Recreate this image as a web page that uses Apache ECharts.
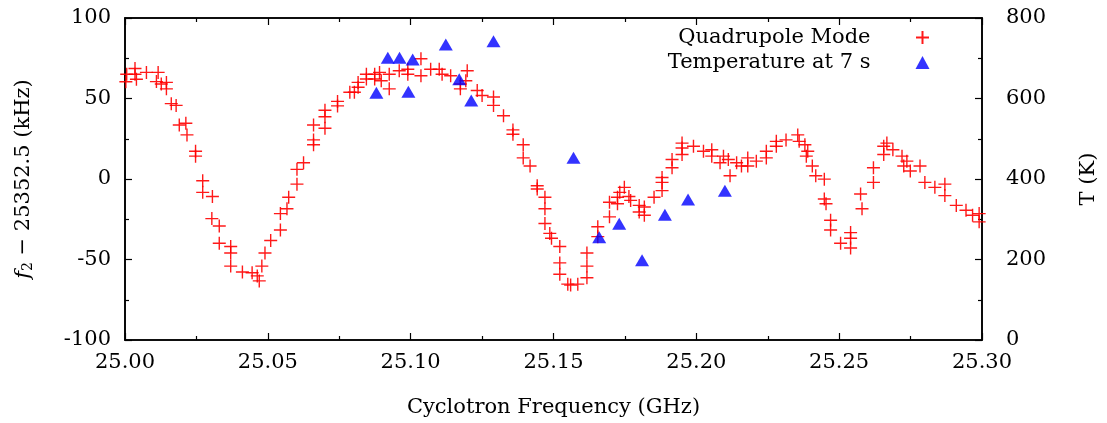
<!DOCTYPE html>
<html>
<head>
<meta charset="utf-8">
<script src="https://cdn.jsdelivr.net/npm/echarts@6/dist/echarts.min.js"></script>
<style>html,body{margin:0;padding:0;background:#fff;overflow:hidden}#c{width:1107px;height:423px}</style>
</head>
<body>
<div id="c"></div>
<script>
// Quadrupole mode: cyclotron frequency (GHz) and f2 - 25352.5 (kHz)
const quadFreq = [
25.0006,25.0003,25.0035,25.0035,25.0040,25.0075,25.0110,25.0116,25.0127,25.0145,25.0145,25.0162,25.0179,25.0190,25.0213,25.0217,25.0247,25.0247,
25.0272,25.0272,25.0306,25.0304,25.0330,25.0330,25.0370,25.0370,25.0370,25.0411,25.0445,25.0463,25.0470,25.0479,25.0490,25.0510,25.0544,25.0544,
25.0567,25.0573,25.0602,25.0602,25.0625,25.0660,25.0660,25.0660,25.0700,25.0700,25.0700,25.0744,25.0744,25.0787,25.0803,25.0816,25.0816,25.0845,
25.0845,25.0874,25.0874,25.0891,25.0897,25.0925,25.0925,25.0960,25.0990,25.0990,25.1036,25.1036,25.1070,25.1100,25.1110,25.1140,25.1174,25.1174,
25.1198,25.1193,25.1233,25.1250,25.1290,25.1290,25.1325,25.1358,25.1358,25.1394,25.1394,25.1418,25.1443,25.1443,25.1470,25.1470,25.1470,25.1487,
25.1493,25.1522,25.1522,25.1522,25.1550,25.1560,25.1585,25.1617,25.1617,25.1617,25.1655,25.1655,25.1696,25.1696,25.1724,25.1724,25.1732,25.1748,
25.1764,25.1770,25.1800,25.1800,25.1818,25.1818,25.1852,25.1880,25.1880,25.1880,25.1915,25.1915,25.1950,25.1950,25.1950,25.1990,25.2025,25.2054,
25.2054,25.2083,25.2095,25.2112,25.2118,25.2141,25.2158,25.2180,25.2180,25.2210,25.2245,25.2245,25.2280,25.2280,25.2314,25.2355,25.2360,25.2380,
25.2385,25.2390,25.2406,25.2418,25.2448,25.2448,25.2454,25.2470,25.2470,25.2505,25.2540,25.2540,25.2540,25.2575,25.2580,25.2620,25.2620,25.2656,
25.2656,25.2667,25.2688,25.2720,25.2726,25.2737,25.2749,25.2783,25.2800,25.2835,25.2870,25.2870,25.2910,25.2944,25.2967,25.2990,25.2990
];
const quadShift = [
65.1,60.4,68.6,65.1,62.0,66.2,60.5,66.2,59.0,60.0,56.0,46.8,45.7,33.5,34.6,27.4,17.2,14.2,
-1.1,-8.3,-10.9,-24.6,-29.2,-39.9,-41.9,-46.0,-54.1,-57.8,-58.2,-60.2,-63.3,-54.1,-46.0,-38.2,-31.7,-21.5,
-18.5,-11.3,-3.2,6.0,10.1,21.3,24.3,33.5,31.5,38.7,42.7,45.4,48.2,53.9,53.9,57.0,60.0,62.1,
65.1,62.1,65.1,66.2,61.0,56.0,65.1,67.2,68.2,65.1,74.7,64.1,68.2,68.2,65.1,64.1,59.0,56.0,
67.2,61.0,55.0,51.9,50.9,45.7,39.3,30.5,27.8,21.3,13.1,8.1,-4.2,-6.2,-11.3,-18.5,-27.6,-33.8,
-36.8,-41.9,-52.1,-59.2,-65.3,-65.9,-65.3,-46.0,-54.1,-61.3,-29.7,-35.8,-23.5,-14.4,-11.3,-15.4,-8.3,-5.2,
-10.9,-13.3,-16.4,-20.5,-17.4,-22.5,-11.3,-7.2,-2.1,0.9,7.0,12.1,15.2,19.3,22.3,20.3,17.2,18.2,
14.2,10.1,14.2,12.1,2.0,10.1,8.1,13.1,8.1,11.1,13.1,17.2,23.4,20.3,24.3,27.4,23.4,21.3,
14.2,17.2,8.1,2.0,-0.1,-12.4,-15.4,-25.6,-31.7,-39.9,-42.9,-36.8,-33.3,-9.3,-18.5,7.0,-2.1,20.3,
15.2,22.3,18.2,14.2,8.1,11.1,5.0,8.1,-2.1,-5.2,-3.2,-10.3,-16.4,-19.4,-22.5,-21.5,-26.6
];
// Temperature at 7 s: frequency (GHz) and T (K)
const tempFreq = [25.0880,25.0920,25.0961,25.0992,25.1007,25.1123,25.1170,25.1212,25.1290,25.1570,25.1660,25.1730,25.1810,25.1890,25.1971,25.2100];
const tempK    = [614,701,701,617,697,734,648,595,742,453,255,289,198,311,349,371];

const seriesNames = ['Quadrupole Mode', 'Temperature at 7 s'];
const xTitle = 'Cyclotron Frequency (GHz)';
const yLeftTitle = '{it|f}{sub|2} \u2212 25352.5 (kHz)';
const yRightTitle = 'T (K)';

const FONT = 'DejaVu Serif';
const FS = 21;
const quadData = quadFreq.map((f, i) => [f, quadShift[i]]);
const tempData = tempFreq.map((f, i) => [f, tempK[i]]);

const axisLineStyle = { color: '#000', width: 1.6 };
const tickStyle = { color: '#000', width: 1.2 };
const chart = echarts.init(document.getElementById('c'), null, { renderer: 'canvas', width: 1107, height: 423 });
chart.setOption({
  animation: false,
  backgroundColor: '#fff',
  textStyle: { fontFamily: FONT },
  grid: { left: 125, right: 118, top: 18, bottom: 78, show: true, borderColor: '#000', borderWidth: 1.6, backgroundColor: 'rgba(0,0,0,0)', containLabel: false },
  legend: {
    orient: 'vertical', align: 'right', right: 172, top: 22, itemGap: 4,
    itemWidth: 14, itemHeight: 13,
    textStyle: { fontFamily: FONT, fontSize: FS, color: '#000', padding: [0, 40, 0, 0] },
    data: seriesNames
  },
  xAxis: [{
    type: 'value', min: 25.0, max: 25.3, interval: 0.05, position: 'bottom',
    name: xTitle, nameLocation: 'middle', nameGap: 57,
    nameTextStyle: { fontFamily: FONT, fontSize: FS, color: '#000' },
    axisLine: { show: true, onZero: false, lineStyle: axisLineStyle },
    axisTick: { show: true, inside: true, length: 7, lineStyle: tickStyle },
    minorTick: { show: true, splitNumber: 2, length: 4, lineStyle: tickStyle },
    splitLine: { show: false },
    axisLabel: { fontFamily: FONT, fontSize: FS, color: '#000', margin: 12, formatter: v => v.toFixed(2) }
  }, {
    type: 'value', min: 25.0, max: 25.3, interval: 0.05, position: 'top',
    axisLine: { show: true, onZero: false, lineStyle: axisLineStyle },
    axisTick: { show: true, inside: true, length: 7, lineStyle: tickStyle },
    minorTick: { show: true, splitNumber: 2, length: 4, lineStyle: tickStyle },
    splitLine: { show: false }, axisLabel: { show: false }
  }],
  yAxis: [{
    type: 'value', min: -100, max: 100, interval: 50, position: 'left',
    name: yLeftTitle, nameLocation: 'middle', nameGap: 90,
    nameTextStyle: {
      fontFamily: FONT, fontSize: FS, color: '#000',
      rich: {
        it: { fontFamily: FONT, fontSize: FS, fontStyle: 'italic', color: '#000' },
        sub: { fontFamily: FONT, fontSize: 14, color: '#000', padding: [9, 0, 0, 0] }
      }
    },
    axisLine: { show: true, onZero: false, lineStyle: axisLineStyle },
    axisTick: { show: true, inside: true, length: 7, lineStyle: tickStyle },
    minorTick: { show: true, splitNumber: 2, length: 4, lineStyle: tickStyle },
    splitLine: { show: false },
    axisLabel: { fontFamily: FONT, fontSize: FS, color: '#000', margin: 14 }
  }, {
    type: 'value', min: 0, max: 800, interval: 200, position: 'right',
    name: yRightTitle, nameLocation: 'middle', nameGap: 96,
    nameTextStyle: { fontFamily: FONT, fontSize: FS, color: '#000' },
    axisLine: { show: true, onZero: false, lineStyle: axisLineStyle },
    axisTick: { show: true, inside: true, length: 7, lineStyle: tickStyle },
    minorTick: { show: true, splitNumber: 2, length: 4, lineStyle: tickStyle },
    splitLine: { show: false },
    axisLabel: { fontFamily: FONT, fontSize: FS, color: '#000', margin: 24 }
  }],
  series: [{
    name: seriesNames[0], type: 'scatter', xAxisIndex: 0, yAxisIndex: 0,
    symbol: 'path://M0,5L10,5M5,0L5,10', symbolSize: 13,
    itemStyle: { color: 'rgba(0,0,0,0)', borderColor: '#ff0000', borderWidth: 1.4, opacity: 0.9 },
    data: quadData, z: 2
  }, {
    name: seriesNames[1], type: 'scatter', xAxisIndex: 0, yAxisIndex: 1,
    symbol: 'triangle', symbolSize: [14, 12],
    itemStyle: { color: '#0000ff' },
    data: tempData, z: 3
  }]
});
</script>
</body>
</html>
